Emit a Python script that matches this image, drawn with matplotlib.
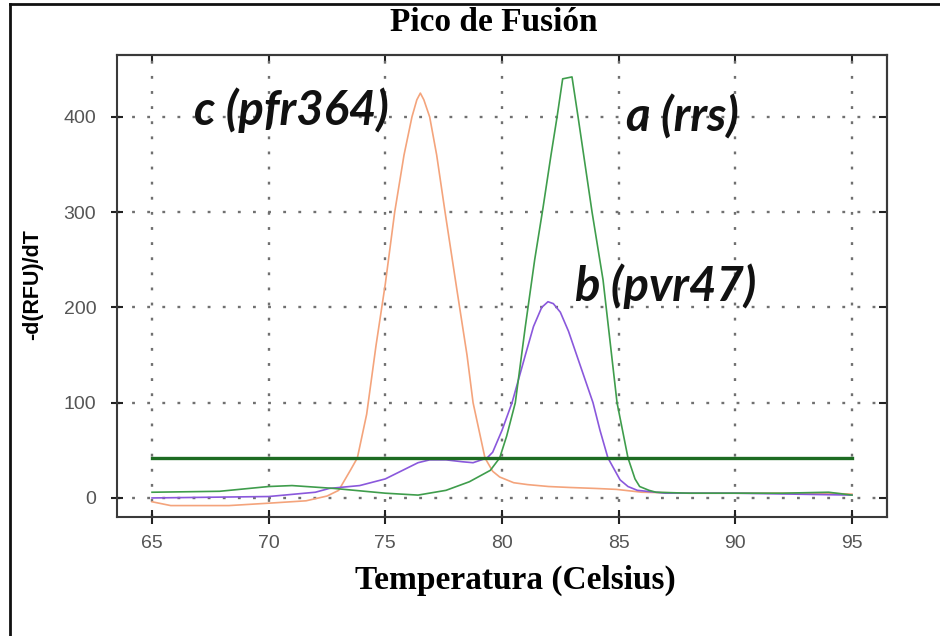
import matplotlib
matplotlib.use("Agg")
import matplotlib.pyplot as plt
from matplotlib.lines import Line2D

# Melt-peak curves (temperature in C, -d(RFU)/dT).
temp_c = [65, 65.8, 67, 68.3, 70, 71.6, 72.5, 73.0, 73.5, 73.8, 74.2, 74.6, 75.0,
          75.4, 75.8, 76.14, 76.35, 76.5, 76.65, 76.9, 77.2, 77.56, 78.07, 78.5,
          78.76, 79.27, 79.6, 79.9, 80.5, 81.1, 82, 82.9, 84, 84.9, 86, 88, 90,
          92, 94, 95]
val_c = [-4, -8, -8, -8, -5.5, -3, 2, 8, 29, 42, 88, 160, 225, 300, 360, 400,
         418, 425, 418, 400, 360, 300, 218, 150, 100, 42, 28, 22, 16, 14, 12, 11,
         10, 9, 6, 5, 5, 5, 5, 4]

temp_a = [65, 67.9, 70, 71, 72.8, 75, 76.4, 77.6, 78.6, 79.5, 79.9, 80.2, 80.57,
          81.0, 81.4, 81.76, 82.1, 82.36, 82.6, 83.0, 83.26, 83.86, 84.33, 84.93,
          85.4, 85.7, 85.9, 86.3, 86.6, 88, 90, 92, 94, 95]
val_a = [6, 7, 12, 13, 10, 5, 3, 8, 17, 29, 42, 65, 100, 180, 250, 305, 360,
         400, 440, 442, 400, 300, 229, 100, 42, 20, 12, 8, 6, 5, 5, 5, 6, 3]

temp_b = [65, 70, 72, 72.6, 73.9, 75, 76.4, 76.9, 77.6, 78.3, 78.76, 79.36, 79.6,
          80.0, 80.43, 81.0, 81.35, 81.7, 81.97, 82.2, 82.5, 82.85, 83.2, 83.9,
          84.2, 84.54, 85.06, 85.4, 85.8, 87, 90, 95]
val_b = [0, 1.5, 6, 10, 13, 20, 37, 40, 40, 38, 37, 42, 48, 71, 100, 150, 180,
         200, 206, 204, 195, 175, 150, 100, 71, 42, 19, 12, 8, 5, 5, 3]

threshold = 42
threshold_range = [65, 95]

x_ticks = [65, 70, 75, 80, 85, 90, 95]
y_ticks = [0, 100, 200, 300, 400]

labels = ["c (pfr364)", "a (rrs)", "b (pvr47)"]
label_pos = [(70.96, 407), (87.74, 400), (87.01, 222)]

fig = plt.figure(figsize=(9.4, 6.36), dpi=100)
ax = fig.add_axes([0.1245, 0.1871, 0.8191, 0.7264])

ax.plot(temp_c, val_c, color="#f4a47c", lw=1.2)
ax.plot(temp_b, val_b, color="#8a58dc", lw=1.2)
ax.plot(temp_a, val_a, color="#3f9d4c", lw=1.2)
ax.plot(threshold_range, [threshold, threshold], color="#1d6b22", lw=2.4)

ax.set_xlim(63.5, 96.5)
ax.set_ylim(-20, 465)
ax.set_xticks(x_ticks)
ax.set_yticks(y_ticks)
ax.grid(True, color="#707070", linestyle=(0, (1.2, 5.2)), linewidth=1.7)
ax.set_axisbelow(True)

for sp in ax.spines.values():
    sp.set_color("#3a3a3a")
    sp.set_linewidth(1.5)

ax.tick_params(axis="x", direction="inout", length=10, width=1.5, color="#222222",
               labelsize=14, labelcolor="#555555", pad=8)
ax.tick_params(axis="y", direction="inout", length=9, width=1.5, color="#222222",
               labelsize=14, labelcolor="#555555", pad=10.5)
for lab in ax.get_xticklabels() + ax.get_yticklabels():
    lab.set_family("Liberation Sans")

sec_x = ax.secondary_xaxis("top")
sec_x.set_xticks(x_ticks)
sec_x.tick_params(direction="in", length=5, width=1.5, color="#222222", labeltop=False)
sec_y = ax.secondary_yaxis("right")
sec_y.set_yticks(y_ticks)
sec_y.tick_params(direction="in", length=6, width=1.5, color="#222222", labelright=False)
for sec in (sec_x, sec_y):
    for sp in sec.spines.values():
        sp.set_color("#3a3a3a")
        sp.set_linewidth(1.5)

for text, (tx, ty) in zip(labels, label_pos):
    ax.text(tx, ty, text, ha="center", va="center", fontsize=34, family="Lato",
            weight="bold", style="italic", color="#111111")

fig.text(0.5255, 0.9654, "Pico de Fusión", ha="center", va="center",
         family="Liberation Serif", weight="bold", fontsize=24)
fig.text(0.548, 0.088, "Temperatura (Celsius)", ha="center", va="center",
         family="Liberation Serif", weight="bold", fontsize=24)
fig.text(0.035, 0.552, "-d(RFU)/dT", ha="center", va="center", rotation=90,
         family="Liberation Sans", weight="bold", fontsize=15.5)

# outer frame: only top and left edges show in the reference
fig.add_artist(Line2D([10 / 940, 1.0], [1 - 4 / 636, 1 - 4 / 636], color="#111111", lw=2))
fig.add_artist(Line2D([10 / 940, 10 / 940], [1 - 4 / 636, 0.0], color="#111111", lw=2))

fig.savefig("out.png", dpi=100)
